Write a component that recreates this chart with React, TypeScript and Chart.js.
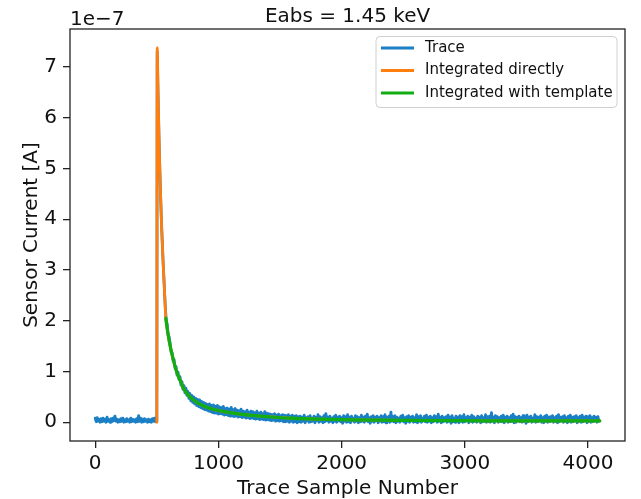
import React, { useEffect, useRef } from "react";
import { Chart, registerables } from "chart.js";

Chart.register(...registerables);

// ---- Text ----
const TITLE = "Eabs = 1.45 keV";
const OFFSET_TEXT = "1e\u22127";
const X_TITLE = "Trace Sample Number";
const Y_TITLE = "Sensor Current [A]";
const LABELS = ["Trace", "Integrated directly", "Integrated with template"];
const COLORS = ["#1a7fc4", "#ff7f0e", "#12ad12"];

// ---- Axes ----
const X_MIN = -204.75;
const X_MAX = 4299.75;
const Y_MIN = -0.37;
const Y_MAX = 7.75;
const X_TICKS = [0, 1000, 2000, 3000, 4000];
const Y_TICKS = [0, 1, 2, 3, 4, 5, 6, 7];

// ---- Data (current in units of 1e-7 A) ----
const TRACE_STEP = 8; // sample spacing of the trace values below
// samples 0 .. 496 (before the pulse)
const TRACE_PRE = [
  0.08, 0.01, 0.09, 0.02, 0.06, 0.0, 0.07, 0.01, 0.08, 0.02, 0.06, 0.0, 0.1, 0.02, 0.05, 0.0,
  0.07, 0.01, 0.08, 0.03, 0.12, 0.02, 0.06, 0.0, 0.05, 0.01, 0.07, 0.02, 0.08, 0.0, 0.05, 0.01,
  0.07, 0.02, 0.05, 0.0, 0.08, 0.01, 0.06, 0.02, 0.05, 0.0, 0.07, 0.01, 0.13, 0.02, 0.08, 0.0,
  0.06, 0.01, 0.07, 0.02, 0.05, 0.0, 0.06, 0.01, 0.05, 0.0, 0.07, 0.02, 0.08, 0.01, 0.03,
];
// pulse onset
const PULSE_X = [500, 503];
const PULSE_Y = [0.02, 7.3];
// samples from 512 on
const POST_START = 512;
const TRACE_POST = [
  6.22, 5.35, 4.66, 4.05, 3.55, 3.1, 2.7, 2.3, 2.02, 1.93, 1.72, 1.68, 1.55, 1.38, 1.37, 1.21,
  1.24, 1.06, 1.1, 0.93, 0.99, 0.84, 0.9, 0.73, 0.8, 0.65, 0.72, 0.58, 0.67, 0.53, 0.61, 0.47,
  0.57, 0.42, 0.53, 0.39, 0.5, 0.36, 0.47, 0.33, 0.45, 0.31, 0.44, 0.29, 0.41, 0.27, 0.39, 0.25,
  0.37, 0.24, 0.35, 0.22, 0.36, 0.21, 0.33, 0.19, 0.34, 0.18, 0.31, 0.18, 0.33, 0.16, 0.3, 0.17,
  0.29, 0.16, 0.31, 0.14, 0.27, 0.15, 0.28, 0.13, 0.26, 0.12, 0.29, 0.12, 0.25, 0.11, 0.27, 0.12,
  0.24, 0.1, 0.23, 0.11, 0.26, 0.09, 0.22, 0.1, 0.21, 0.08, 0.24, 0.09, 0.2, 0.07, 0.22, 0.08,
  0.21, 0.07, 0.19, 0.06, 0.22, 0.07, 0.18, 0.05, 0.2, 0.06, 0.17, 0.05, 0.21, 0.04, 0.18, 0.05,
  0.17, 0.04, 0.16, 0.03, 0.15, 0.04, 0.17, 0.02, 0.14, 0.03, 0.16, 0.02, 0.13, 0.03, 0.15, 0.01,
  0.14, 0.01, 0.13, 0.02, 0.15, 0.0, 0.12, 0.02, 0.14, 0.0, 0.12, 0.01, 0.13, -0.01, 0.11, 0.01,
  // tail from 1664
  0.12, 0.0, 0.1, 0.02, 0.14, -0.01, 0.09, 0.03, 0.11, 0.0, 0.13, 0.01, 0.08, 0.02, 0.12, -0.01,
  0.1, 0.03, 0.15, 0.0, 0.11, 0.02, 0.09, -0.01, 0.13, 0.01, 0.17, 0.03, 0.1, 0.0, 0.12, 0.02,
  0.08, -0.01, 0.11, 0.02, 0.14, 0.0, 0.1, 0.03, 0.12, 0.01, 0.09, -0.02, 0.13, 0.02, 0.11, 0.0,
  0.15, 0.01, 0.1, -0.01, 0.12, 0.03, 0.08, 0.0, 0.13, 0.02, 0.11, -0.01, 0.09, 0.01, 0.14, 0.02,
  0.1, 0.0, 0.12, 0.03, 0.16, 0.01, 0.09, -0.02, 0.11, 0.02, 0.13, 0.0, 0.1, 0.03, 0.12, -0.01,
  0.09, 0.02, 0.13, 0.0, 0.11, 0.01, 0.15, -0.01, 0.1, 0.03, 0.12, 0.0, 0.2, 0.02, 0.11, 0.01,
  0.13, -0.01, 0.1, 0.02, 0.08, 0.0, 0.12, 0.03, 0.14, 0.01, 0.09, -0.02, 0.11, 0.02, 0.13, 0.0,
  0.1, 0.03, 0.12, 0.0, 0.09, 0.01, 0.15, -0.01, 0.11, 0.02, 0.13, 0.0, 0.08, 0.03, 0.12, 0.01,
  0.14, 0.0, 0.1, 0.02, 0.12, -0.01, 0.09, 0.01, 0.13, 0.03, 0.11, 0.0, 0.16, 0.02, 0.1, -0.01,
  0.12, 0.01, 0.09, 0.03, 0.11, 0.0, 0.14, 0.02, 0.1, -0.02, 0.13, 0.01, 0.08, 0.0, 0.12, 0.03,
  0.1, -0.01, 0.13, 0.02, 0.11, 0.0, 0.15, 0.01, 0.09, 0.03, 0.12, -0.01, 0.1, 0.02, 0.14, 0.0,
  0.11, 0.02, 0.08, 0.0, 0.12, 0.03, 0.1, -0.01, 0.13, 0.01, 0.09, 0.02, 0.15, 0.0, 0.11, 0.01,
  0.12, 0.0, 0.19, 0.02, 0.1, -0.01, 0.13, 0.03, 0.11, 0.0, 0.09, 0.02, 0.12, 0.01, 0.14, -0.01,
  0.1, 0.03, 0.12, 0.0, 0.09, 0.01, 0.13, 0.02, 0.16, -0.01, 0.11, 0.0, 0.1, 0.03, 0.12, 0.01,
  0.09, 0.0, 0.13, 0.02, 0.11, -0.02, 0.14, 0.01, 0.1, 0.03, 0.12, 0.0, 0.08, 0.02, 0.15, 0.0,
  0.11, 0.01, 0.1, 0.03, 0.13, 0.0, 0.09, -0.01, 0.12, 0.02, 0.14, 0.0, 0.1, 0.01, 0.11, 0.03,
  0.13, 0.0, 0.09, 0.02, 0.12, -0.01, 0.15, 0.01, 0.1, 0.03, 0.11, 0.0, 0.13, 0.02, 0.09, -0.01,
  0.12, 0.02, 0.14, 0.0, 0.1, 0.01, 0.11, 0.03, 0.13, -0.01, 0.09, 0.02, 0.12, 0.0, 0.14, 0.01,
  0.1, 0.03, 0.12, -0.01, 0.11, 0.02, 0.13, 0.0, 0.09, 0.01, 0.12, 0.03, 0.1, 0.0, 0.11, 0.02,
];

const DIRECT_X = [500, 503, 510, 520, 530, 540, 550, 560, 573, 590, 610, 635, 660, 690, 716, 760, 825, 900, 1000, 1095, 1250, 1400, 1581, 1800, 2100, 2500, 3000, 3500, 4095];
const DIRECT_Y = [0.0, 7.38, 6.45, 5.35, 4.5, 3.78, 3.2, 2.7, 2.05, 1.75, 1.48, 1.22, 1.0, 0.82, 0.67, 0.52, 0.39, 0.3, 0.23, 0.19, 0.14, 0.11, 0.08, 0.06, 0.045, 0.035, 0.03, 0.025, 0.025];

const TEMPLATE_X = [573, 590, 610, 635, 660, 690, 716, 760, 825, 900, 1000, 1095, 1250, 1400, 1581, 1800, 2100, 2500, 3000, 3500, 4095];
const TEMPLATE_Y = [2.05, 1.75, 1.48, 1.22, 1.0, 0.82, 0.67, 0.52, 0.39, 0.3, 0.23, 0.19, 0.14, 0.11, 0.08, 0.06, 0.045, 0.035, 0.03, 0.025, 0.025];

const FONT = '"DejaVu Sans", sans-serif';

const decorPlugin = {
  id: "decor",
  afterDraw(chart: any) {
    const { ctx, chartArea: a } = chart;
    ctx.save();
    // frame
    ctx.strokeStyle = "#222";
    ctx.lineWidth = 1.3;
    ctx.strokeRect(a.left, a.top, a.right - a.left, a.bottom - a.top);

    ctx.fillStyle = "#111";
    ctx.font = `20px ${FONT}`;
    ctx.textBaseline = "alphabetic";
    ctx.textAlign = "center";
    ctx.fillText(TITLE, (a.left + a.right) / 2, 22);
    ctx.textAlign = "left";
    ctx.fillText(OFFSET_TEXT, a.left, 25);
    ctx.textAlign = "center";
    ctx.fillText(X_TITLE, (a.left + a.right) / 2, 494);
    ctx.save();
    ctx.translate(37, (a.top + a.bottom) / 2);
    ctx.rotate(-Math.PI / 2);
    ctx.fillText(Y_TITLE, 0, 0);
    ctx.restore();

    // legend
    const bx = 376, by = a.top + 7.5, bw = a.right - 8 - 376, bh = 71;
    ctx.beginPath();
    ctx.roundRect(bx, by, bw, bh, 4);
    ctx.fillStyle = "rgba(255,255,255,0.8)";
    ctx.fill();
    ctx.strokeStyle = "#d0d0d0";
    ctx.lineWidth = 1;
    ctx.stroke();
    ctx.font = `15px ${FONT}`;
    ctx.textAlign = "left";
    ctx.textBaseline = "middle";
    const rows = [48, 70.5, 93];
    LABELS.forEach((lab, i) => {
      ctx.strokeStyle = COLORS[i];
      ctx.lineWidth = 2.8;
      ctx.beginPath();
      ctx.moveTo(381, rows[i]);
      ctx.lineTo(414, rows[i]);
      ctx.stroke();
      ctx.fillStyle = "#111";
      ctx.fillText(lab, 425, rows[i]);
    });
    ctx.restore();
  },
};

export default function App() {
  const ref = useRef<HTMLCanvasElement | null>(null);
  useEffect(() => {
    document.body.style.margin = "0";
    const canvas = ref.current;
    if (!canvas) return;
    const pre = TRACE_PRE.map((y, i) => ({ x: i * TRACE_STEP, y }));
    const pulse = PULSE_X.map((x, i) => ({ x, y: PULSE_Y[i] }));
    const post = TRACE_POST.map((y, i) => ({ x: POST_START + i * TRACE_STEP, y }));
    const trace = [...pre, ...pulse, ...post];
    const direct = DIRECT_X.map((x, i) => ({ x, y: DIRECT_Y[i] }));
    const templ = TEMPLATE_X.map((x, i) => ({ x, y: TEMPLATE_Y[i] }));
    const lineCommon = {
      pointRadius: 0,
      borderWidth: 2.8,
      fill: false,
      borderJoinStyle: "round" as const,
      borderCapStyle: "round" as const,
    };
    const tickFont = { family: FONT, size: 20 };
    const chart = new Chart(canvas, {
      type: "line",
      data: {
        datasets: [
          { label: LABELS[0], data: trace, borderColor: COLORS[0], order: 3, tension: 0, ...lineCommon },
          { label: LABELS[1], data: direct, borderColor: COLORS[1], order: 2, cubicInterpolationMode: "monotone", ...lineCommon },
          { label: LABELS[2], data: templ, borderColor: COLORS[2], order: 1, cubicInterpolationMode: "monotone", ...lineCommon, borderWidth: 3.2 },
        ],
      },
      options: {
        animation: false,
        responsive: false,
        devicePixelRatio: 1,
        layout: { padding: { left: 8, top: 29, right: 16, bottom: 0 } },
        plugins: {
          legend: { display: false },
          title: { display: false },
          tooltip: { enabled: false },
        },
        scales: {
          x: {
            type: "linear",
            min: X_MIN,
            max: X_MAX,
            afterBuildTicks: (s: any) => {
              s.ticks = X_TICKS.map((v) => ({ value: v }));
            },
            afterFit: (s: any) => {
              s.height = 58;
            },
            grid: { drawOnChartArea: false, drawTicks: true, tickLength: 7, color: "#222", lineWidth: 1.3 },
            border: { display: false },
            ticks: { font: tickFont, color: "#111", padding: 4, maxRotation: 0, autoSkip: false, callback: (v: any) => String(v) },
          },
          y: {
            type: "linear",
            min: Y_MIN,
            max: Y_MAX,
            afterBuildTicks: (s: any) => {
              s.ticks = Y_TICKS.map((v) => ({ value: v }));
            },
            afterFit: (s: any) => {
              s.width = 62;
            },
            grid: { drawOnChartArea: false, drawTicks: true, tickLength: 7, color: "#222", lineWidth: 1.3 },
            border: { display: false },
            ticks: { font: tickFont, color: "#111", padding: 6, autoSkip: false, callback: (v: any) => String(v) },
          },
        },
      },
      plugins: [decorPlugin],
    });
    return () => chart.destroy();
  }, []);
  return <canvas ref={ref} width={641} height={499} style={{ display: "block" }} />;
}
